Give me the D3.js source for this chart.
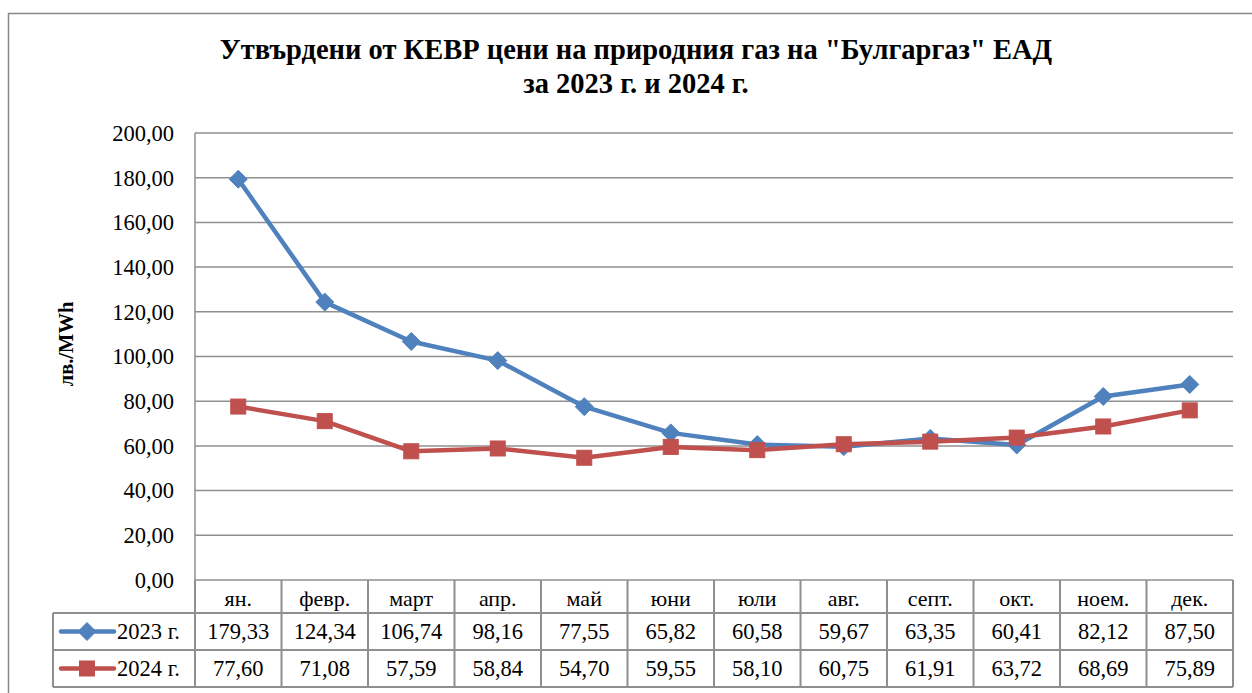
<!DOCTYPE html>
<html>
<head>
<meta charset="utf-8">
<script src="https://cdn.jsdelivr.net/npm/d3@7"></script>
<style>
	body { margin: 0; background: #fff; }
</style>
</head>
<body>
<svg id="chart" width="1252" height="693" style="font-family: 'Times New Roman', 'Liberation Serif', Tinos, serif"></svg>
<script>
const months = ["ян.", "февр.", "март", "апр.", "май", "юни", "юли", "авг.", "септ.", "окт.", "ноем.", "дек."]
const prices2023 = [179.33, 124.34, 106.74, 98.16, 77.55, 65.82, 60.58, 59.67, 63.35, 60.41, 82.12, 87.50]
const prices2024 = [77.60, 71.08, 57.59, 58.84, 54.70, 59.55, 58.10, 60.75, 61.91, 63.72, 68.69, 75.89]
const seriesNames = ["2023 г.", "2024 г."]
const yTicks = [0, 20, 40, 60, 80, 100, 120, 140, 160, 180, 200]
const titleLines = ['Утвърдени от КЕВР цени на природния газ на "Булгаргаз" ЕАД', 'за 2023 г. и 2024 г.']
const yTitle = "лв./MWh"

const FONT = "'Times New Roman', 'Liberation Serif', Tinos, serif"
const svg = d3.select("#chart")
const plot = { left: 195, right: 1233, top: 133, bottom: 580 }
const rowH = [33, 37, 37] // header, 2023, 2024
const legendLeft = 53
const gridColor = "#8f8f8f"
const colors = ["#4f81bd", "#c0504d"]
const fmt = v => d3.format(".2f")(v).replace(".", ",")

function label(xp, yp, str, size) {
	return svg.append("text")
		.attr("x", xp).attr("y", yp)
		.style("font-family", FONT)
		.style("font-size", size + "px")
		.attr("fill", "#000")
		.text(str)
}

// outer chart border (right/bottom run off the picture)
svg.append("rect")
	.attr("x", 8.5).attr("y", 13.5)
	.attr("width", 1260).attr("height", 700)
	.attr("fill", "none").attr("stroke", "#888").attr("stroke-width", 1.5)

const x = d3.scaleBand().domain(months).range([plot.left, plot.right])
const y = d3.scaleLinear().domain([0, 200]).range([plot.bottom, plot.top])
const mid = i => x(months[i]) + x.bandwidth() / 2

// title
titleLines.forEach((t, i) => {
	label(636, 59 + i * 34, t, 28.5)
		.attr("text-anchor", "middle")
		.style("font-weight", "bold")
})

// gridlines
svg.append("g").selectAll("line").data(yTicks).join("line")
	.attr("x1", plot.left).attr("x2", plot.right)
	.attr("y1", d => y(d)).attr("y2", d => y(d))
	.attr("stroke", gridColor).attr("stroke-width", 1.5)

svg.append("line")
	.attr("x1", plot.left).attr("x2", plot.left)
	.attr("y1", plot.top).attr("y2", plot.bottom)
	.attr("stroke", gridColor).attr("stroke-width", 1.5)

// y tick labels
yTicks.forEach(t => {
	label(plot.left - 21, y(t), fmt(t), 22.5)
		.attr("dy", "0.35em").attr("text-anchor", "end")
})

// y title
label(0, 0, yTitle, 20.5)
	.attr("transform", `translate(73,344) rotate(-90)`)
	.attr("text-anchor", "middle")
	.style("font-weight", "bold")

// data table
const rowTop = [plot.bottom, plot.bottom + rowH[0], plot.bottom + rowH[0] + rowH[1]]
const tableBottom = rowTop[2] + rowH[2]
const table = svg.append("g").attr("stroke", gridColor).attr("stroke-width", 2)
;[rowTop[1], rowTop[2], tableBottom].forEach(yy => {
	table.append("line").attr("x1", legendLeft).attr("x2", plot.right)
		.attr("y1", yy).attr("y2", yy)
})
table.append("line").attr("x1", legendLeft).attr("x2", legendLeft)
	.attr("y1", rowTop[1]).attr("y2", tableBottom)
table.selectAll("line.col").data(months.concat(["end"])).join("line")
	.attr("class", "col")
	.attr("x1", (d, i) => i < months.length ? x(d) : plot.right)
	.attr("x2", (d, i) => i < months.length ? x(d) : plot.right)
	.attr("y1", plot.bottom).attr("y2", tableBottom)

// month header
months.forEach((m, i) => {
	label(mid(i), rowTop[0] + rowH[0] / 2 + 2, m, 22)
		.attr("dy", "0.35em").attr("text-anchor", "middle")
})

const allSeries = [prices2023, prices2024]
allSeries.forEach((vals, s) => {
	const cy = rowTop[s + 1] + rowH[s + 1] / 2
	vals.forEach((v, i) => {
		label(mid(i), cy, fmt(v), 22.5)
			.attr("dy", "0.35em").attr("text-anchor", "middle")
	})
	// legend key
	svg.append("line")
		.attr("x1", 61).attr("x2", 114).attr("y1", cy).attr("y2", cy)
		.attr("stroke", colors[s]).attr("stroke-width", 4.5).attr("stroke-linecap", "round")
	drawMarker(svg, s, 87, cy)
	label(117, cy, seriesNames[s], 22.5).attr("dy", "0.35em")
})

// lines
const line = d3.line()
	.x((d, i) => mid(i))
	.y(d => y(d))

allSeries.forEach((vals, s) => {
	svg.append("path")
		.datum(vals)
		.attr("d", line)
		.attr("fill", "none")
		.attr("stroke", colors[s]).attr("stroke-width", 4.5)
		.attr("stroke-linejoin", "round")
	const g = svg.append("g")
	vals.forEach((v, i) => drawMarker(g, s, mid(i), y(v)))
})

function drawMarker(parent, s, cx, cy) {
	if (s === 0) {
		const r = 9
		parent.append("path")
			.attr("d", `M${cx},${cy - r}L${cx + r},${cy}L${cx},${cy + r}L${cx - r},${cy}Z`)
			.attr("fill", colors[0]).attr("stroke", colors[0]).attr("stroke-width", 1)
	} else {
		const h = 7.5
		parent.append("rect")
			.attr("x", cx - h).attr("y", cy - h)
			.attr("width", h * 2).attr("height", h * 2)
			.attr("fill", colors[1]).attr("stroke", colors[1]).attr("stroke-width", 1)
	}
}
</script>
</body>
</html>
